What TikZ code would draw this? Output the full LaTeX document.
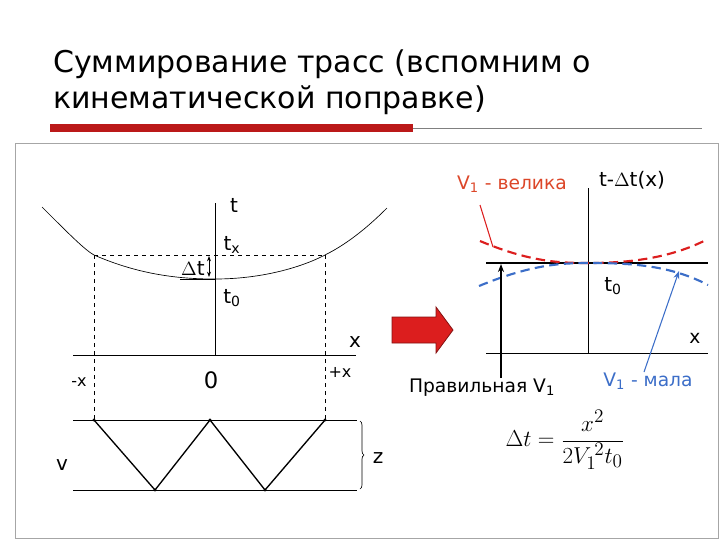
\documentclass[tikz,border=0pt]{standalone}
\usepackage{fontspec}
\setmainfont{DejaVu Sans}
\usetikzlibrary{arrows.meta,decorations.pathreplacing}
\definecolor{vred}{RGB}{220,30,30}
\definecolor{vblue}{RGB}{60,110,200}
\definecolor{lblred}{RGB}{220,70,40}
\begin{document}
\begin{tikzpicture}[x=0.75pt,y=-0.75pt,
  lbl/.style={inner sep=0pt,font=\fontsize{14}{16}\selectfont},
  ax/.style={line width=0.6pt},
  dsh/.style={dashed,line width=0.5pt}]
\useasboundingbox (0,0) rectangle (720,540);
% title
\node[anchor=west,inner sep=0pt,font=\fontsize{22.5}{26}\selectfont] (t1) at (53,64) {Суммирование трасс (вспомним о};
\node[anchor=west,inner sep=0pt,font=\fontsize{22.5}{26}\selectfont] (t2) at (53,100) {кинематической поправке)};
\fill[vred!85!black] (50,124) rectangle (413,132);
\draw[gray,line width=0.6pt] (413,128) -- (702,128);
\draw[gray!70,line width=0.6pt] (15,143) rectangle (718,538);
% left: axes
\coordinate (tT) at (215,203); \coordinate (tB) at (215,355);
\draw[ax] (tT) -- (tB);
\coordinate (xL) at (73,355); \coordinate (xR) at (356,355);
\draw[ax] (xL) -- (xR);
\draw[line width=0.5pt] (42,207) .. controls (70,235) and (85,250) .. (94,255)
  .. controls (140,275) and (180,279) .. (215,279)
  .. controls (260,279) and (300,268) .. (325,255)
  .. controls (345,245) and (365,230) .. (387,208);
\draw[line width=0.6pt] (180,279) -- (215,279);
\coordinate (pL) at (94,255); \coordinate (pR) at (325,255);
\draw[dsh] (pL) -- (pR);
\draw[dsh] (pL) -- (94,420);
\draw[dsh] (pR) -- (325,420);
\draw[{Stealth[length=4pt]}-{Stealth[length=4pt]},line width=0.6pt] (209,256) -- (209,277);
\node[lbl,font=\fontsize{15}{17}\selectfont] (lt) at (234,205) {t};
\node[lbl,font=\fontsize{15}{17}\selectfont] (ltx) at (232,245) {t\textsubscript{x}};
\node[lbl,font=\fontsize{15}{17}\selectfont] (ldt) at (193,268) {$\Delta$t};
\node[lbl,font=\fontsize{15}{17}\selectfont] (lt0) at (232,298) {t\textsubscript{0}};
\node[lbl,font=\fontsize{15}{17}\selectfont] (lx) at (355,342) {x};
\node[lbl,font=\fontsize{12}{14}\selectfont] (lmx) at (79,382) {-x};
\node[lbl,font=\fontsize{17}{19}\selectfont] (l0) at (211,380) {0};
\node[lbl,font=\fontsize{12}{14}\selectfont] (lpx) at (340,372) {+x};
% layer
\draw[ax] (73,420) -- (357,420);
\draw[ax] (73,490) -- (357,490);
\coordinate (a) at (94,420); \coordinate (b) at (155,490); \coordinate (c) at (210,420);
\coordinate (d) at (265,490); \coordinate (e) at (325,420);
\draw[line width=1pt] (a) -- (b) -- (c) -- (d) -- (e);
\foreach \p in {a,b,c,d,e} \fill (\p) circle (1.6);
\draw[decorate,decoration={brace,amplitude=3pt},line width=0.5pt] (360,421) -- (360,489);
\node[lbl,font=\fontsize{15}{17}\selectfont] (lz) at (378,458) {z};
\node[lbl,font=\fontsize{15}{17}\selectfont] (lv) at (62,465) {v};
% red block arrow
\filldraw[fill=vred,draw=vred!60!black,line width=0.6pt] (392,317) -- (436,317) -- (436,307) -- (453,330) -- (436,353) -- (436,343) -- (392,343) -- cycle;
% right
\draw[line width=0.6pt] (588,188) -- (588,353);
\draw[line width=0.6pt] (486,353) -- (708,353);
\draw[line width=1.6pt] (486,263) -- (708,263);
\draw[vred,dashed,dash pattern=on 7pt off 4pt,line width=1.6pt] (480,241) .. controls (530,262) and (560,263) .. (588,263) .. controls (630,263) and (670,258) .. (706,240);
\draw[vblue,dashed,dash pattern=on 7pt off 4pt,line width=1.6pt] (479,286) .. controls (530,265) and (560,263) .. (588,263) .. controls (630,263) and (670,265) .. (708,285);
\node[lbl,font=\fontsize{15}{17}\selectfont] (rt0) at (613,286) {t\textsubscript{0}};
\node[lbl,font=\fontsize{15}{17}\selectfont] (rtd) at (632,180) {t-$\Delta$t(x)};
\node[lbl] (rx) at (695,338) {x};
\node[lbl,text=lblred] (vbig) at (512,184) {V\textsubscript{1} - велика};
\node[lbl,text=vblue] (vsm) at (648,381) {V\textsubscript{1} - мала};
\node[lbl] (vok) at (482,388) {Правильная V\textsubscript{1}};
\coordinate (okb) at (501,378); \coordinate (okt) at (501,264);
\draw[-{Stealth[length=6pt]},line width=1pt] (okb) -- (okt);
\coordinate (rb) at (480,205); \coordinate (re) at (493,247);
\draw[vred,line width=0.8pt] (rb) -- (re);
\coordinate (bb) at (644,372); \coordinate (be) at (679,271);
\draw[vblue,-{Stealth[length=6pt]},line width=0.8pt] (bb) -- (be);
\node[inner sep=0pt,font=\fontsize{19}{22}\selectfont] (form) at (565,440) {$\displaystyle\Delta t=\frac{x^2}{2V_1^{\,2}t_0}$};
\end{tikzpicture}
\end{document}
